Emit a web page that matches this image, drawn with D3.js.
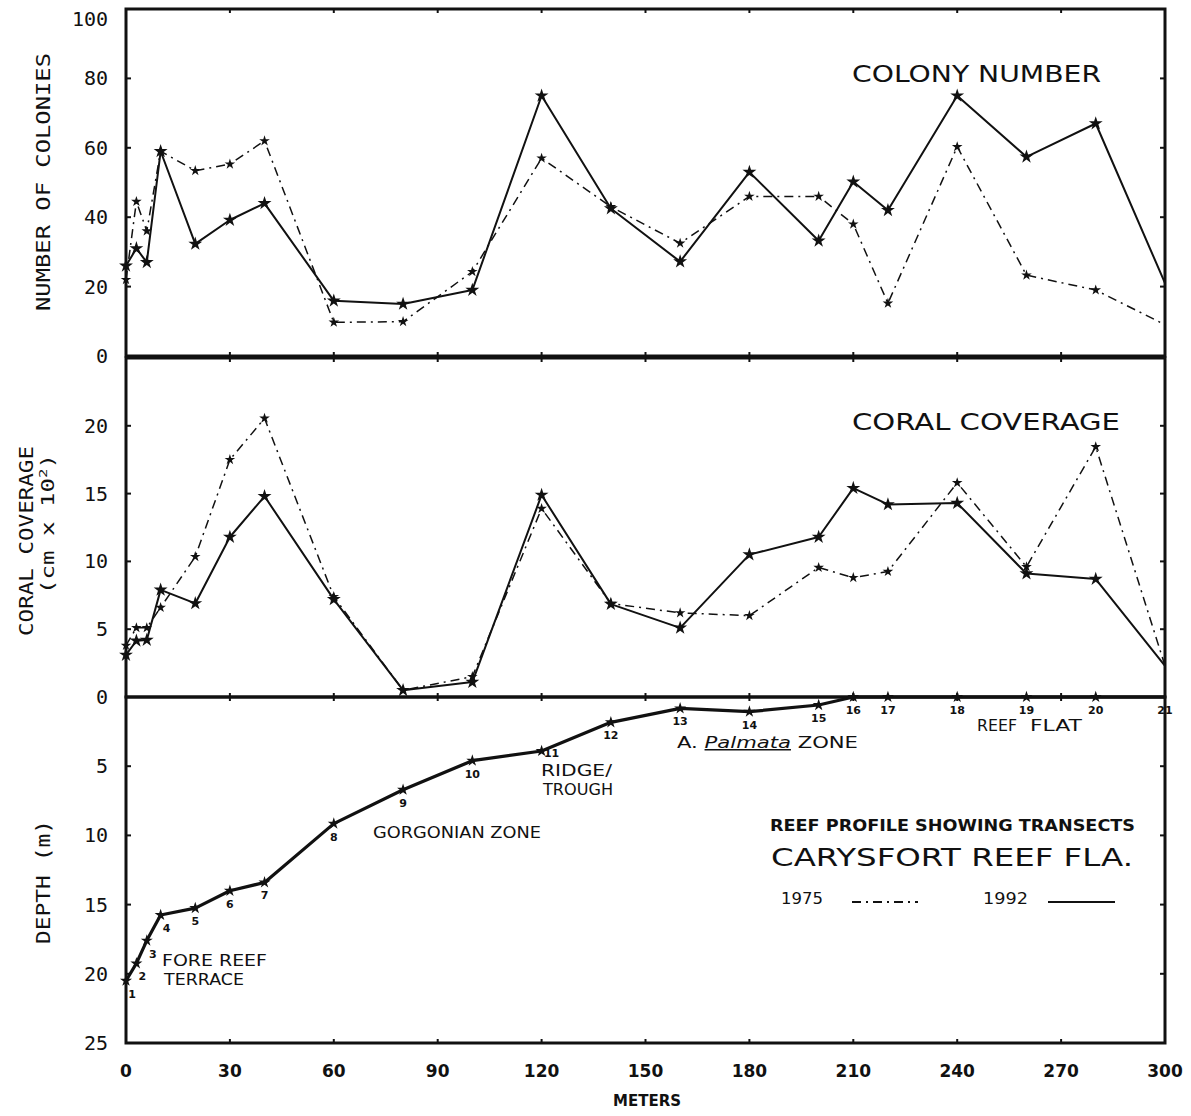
<!DOCTYPE html>
<html><head><meta charset="utf-8">
<script src="https://cdn.jsdelivr.net/npm/d3@7"></script>
<style>
body{margin:0;background:#fff;}
svg text{fill:#111;}
</style></head>
<body>
<svg id="chart" width="1191" height="1116"></svg>
<script>
// ---- data ----
const meters = [0,3,6,10,20,30,40,60,80,100,120,140,160,180,200,210,220,240,260,280,300];
const transects = ["1","2","3","4","5","6","7","8","9","10","11","12","13","14","15","16","17","18","19","20","21"];
const colonies1975 = [22,44.5,36,59,53.4,55.3,62,9.7,9.9,24.3,57,43,32.5,46,46,38,15.2,60.3,23.3,19,9];
const colonies1992 = [26,31,27,59,32.3,39.2,44,15.9,15,19,75,42.5,27.2,53,33.2,50.2,42,75,57.4,67,21];
const coverage1975 = [3.8,5.1,5.1,6.6,10.35,17.5,20.55,7.4,0.5,1.5,13.9,6.9,6.2,6.0,9.55,8.8,9.25,15.8,9.6,18.45,2.3];
const coverage1992 = [3.1,4.15,4.2,7.9,6.9,11.8,14.8,7.2,0.5,1.1,14.9,6.85,5.1,10.5,11.8,15.4,14.2,14.3,9.1,8.7,2.3];
const depth = [20.5,19.25,17.6,15.75,15.25,14.0,13.4,9.15,6.7,4.6,3.9,1.83,0.82,1.06,0.58,0,0,0,0,0,0];
const xTicks = [0,30,60,90,120,150,180,210,240,270,300];
const colonyTicks = [0,20,40,60,80,100];
const coverageTicks = [5,10,15,20];
const depthTicks = [0,5,10,15,20,25];

const svg = d3.select("#chart");
const L = 126, R = 1165;
const x = d3.scaleLinear().domain([0,300]).range([L,R]);
const yCol = d3.scaleLinear().domain([0,100]).range([356,9]);
const yCov = d3.scaleLinear().domain([0,25]).range([697,358]);
const yDep = d3.scaleLinear().domain([0,25]).range([697,1043]);

const mono = "'DejaVu Sans Mono', monospace";
const sans = "'DejaVu Sans', sans-serif";

// panel frames with inward ticks
function frame(yScale, ticks, allTicks){
  const [y0,y1] = yScale.range();
  const top = Math.min(y0,y1), bot = Math.max(y0,y1);
  const g = svg.append("g");
  g.append("rect").attr("x",L).attr("y",top).attr("width",R-L).attr("height",bot-top)
   .attr("fill","none").attr("stroke","#111").attr("stroke-width",3);
  allTicks.forEach(t=>{
    const yy = yScale(t);
    g.append("line").attr("x1",L).attr("x2",L+5).attr("y1",yy).attr("y2",yy).attr("stroke","#111").attr("stroke-width",2);
    g.append("line").attr("x1",R-5).attr("x2",R).attr("y1",yy).attr("y2",yy).attr("stroke","#111").attr("stroke-width",2);
  });
  xTicks.forEach(t=>{
    g.append("line").attr("x1",x(t)).attr("x2",x(t)).attr("y1",top).attr("y2",top+4).attr("stroke","#111").attr("stroke-width",2);
    g.append("line").attr("x1",x(t)).attr("x2",x(t)).attr("y1",bot-4).attr("y2",bot).attr("stroke","#111").attr("stroke-width",2);
  });
  ticks.forEach(t=>{
    g.append("text").attr("x",108).attr("y",Math.max(yScale(t)+7, 26)).attr("text-anchor","end")
     .attr("font-family",mono).attr("font-size",20).text(t);
  });
}
frame(yCol, colonyTicks, colonyTicks);
frame(yCov, coverageTicks, [5,10,15,20]);
frame(yDep, depthTicks, depthTicks);

// series drawing
function series(xs, ys, yScale, dashed, width, msize){
  const pts = xs.map((d,i)=>[x(d), yScale(ys[i])]);
  svg.append("path").attr("d", d3.line()(pts)).attr("fill","none").attr("stroke","#111")
    .attr("stroke-width",width).attr("stroke-dasharray", dashed ? "9,5,2,5" : null)
    .attr("stroke-linejoin","round");
  const sym = d3.symbol().type(d3.symbolStar).size(msize);
  svg.append("g").selectAll("path").data(pts.slice(0, pts.length-1)).join("path")
    .attr("transform",d=>`translate(${d[0]},${d[1]})`).attr("d",sym).attr("fill","#111");
}
series(meters, colonies1975, yCol, true, 1.5, 35);
series(meters, colonies1992, yCol, false, 2, 60);
series(meters, coverage1975, yCov, true, 1.5, 35);
series(meters, coverage1992, yCov, false, 2, 60);
series(meters, depth, yDep, false, 3.2, 45);

// transect numbers (label 11 sits beside its point, above the RIDGE/TROUGH note)
svg.append("g").selectAll("text").data(meters).join("text")
  .attr("x",(d,i)=> x(d) + (i<4 ? 6 : (i===10 ? 10 : 0)))
  .attr("y",(d,i)=> yDep(depth[i]) + (i===10 ? 6 : 17))
  .attr("text-anchor","middle").attr("font-family",sans).attr("font-weight","bold")
  .attr("font-size",11).text((d,i)=>transects[i]);

// x axis labels
svg.append("g").selectAll("text").data(xTicks).join("text")
  .attr("x",d=>x(d)).attr("y",1077).attr("text-anchor","middle")
  .attr("font-family",sans).attr("font-weight","bold").attr("font-size",17).text(d=>d);
svg.append("text").attr("x",647).attr("y",1106).attr("text-anchor","middle")
  .attr("font-family",sans).attr("font-weight","bold").attr("font-size",15).text("METERS");

// y axis titles
function vtitle(cx, cy, txt, len, size){
  svg.append("text").attr("transform",`translate(${cx},${cy}) rotate(-90)`)
    .attr("text-anchor","middle").attr("font-family",mono).attr("font-size",size)
    .attr("textLength",len).attr("lengthAdjust","spacingAndGlyphs").text(txt);
}
vtitle(50, 182, "NUMBER OF COLONIES", 258, 19);
vtitle(33, 541, "CORAL COVERAGE", 190, 19);
svg.append("text").attr("transform",`translate(54,524) rotate(-90)`)
  .attr("text-anchor","middle").attr("font-family",mono).attr("font-size",17)
  .attr("textLength",140).attr("lengthAdjust","spacingAndGlyphs")
  .html("(cm x 10<tspan dy='-7' font-size='11'>2</tspan><tspan dy='7'>)</tspan>");
vtitle(50, 882, "DEPTH (m)", 124, 19);

// panel headers
function label(xx, yy, txt, size, len, bold, fam){
  const t = svg.append("text").attr("x",xx).attr("y",yy).attr("font-family",fam||sans)
    .attr("font-size",size).attr("font-weight",bold?"bold":"normal").text(txt);
  if(len) t.attr("textLength",len).attr("lengthAdjust","spacingAndGlyphs");
  return t;
}
label(852, 82, "COLONY NUMBER", 23, 249, false);
label(852, 430, "CORAL COVERAGE", 23, 268, false);

// zone annotations
label(162, 966, "FORE REEF", 15, 105, false);
label(164, 985, "TERRACE", 15, 80, false);
label(373, 838, "GORGONIAN ZONE", 15, 168, false);
label(541, 776, "RIDGE/", 15, 71, false);
label(543, 795, "TROUGH", 15, 70, false);
const pz = label(677, 748, "", 15, 181, false);
pz.append("tspan").text("A. ");
pz.append("tspan").attr("text-decoration","underline").attr("font-style","italic").text("Palmata");
pz.append("tspan").text(" ZONE");
label(977, 731, "REEF", 15, 40, false);
label(1030, 731, "FLAT", 15, 52, false);

// title block
label(770, 831, "REEF PROFILE SHOWING TRANSECTS", 15, 365, true);
label(771, 866, "CARYSFORT REEF FLA.", 25, 362, false);
label(781, 904, "1975", 15, 42, false);
label(983, 904, "1992", 15, 45, false);
svg.append("line").attr("x1",852).attr("x2",918).attr("y1",902).attr("y2",902)
  .attr("stroke","#111").attr("stroke-width",2).attr("stroke-dasharray","9,5,2,5");
svg.append("line").attr("x1",1048).attr("x2",1115).attr("y1",902).attr("y2",902)
  .attr("stroke","#111").attr("stroke-width",2);
</script>
</body></html>
